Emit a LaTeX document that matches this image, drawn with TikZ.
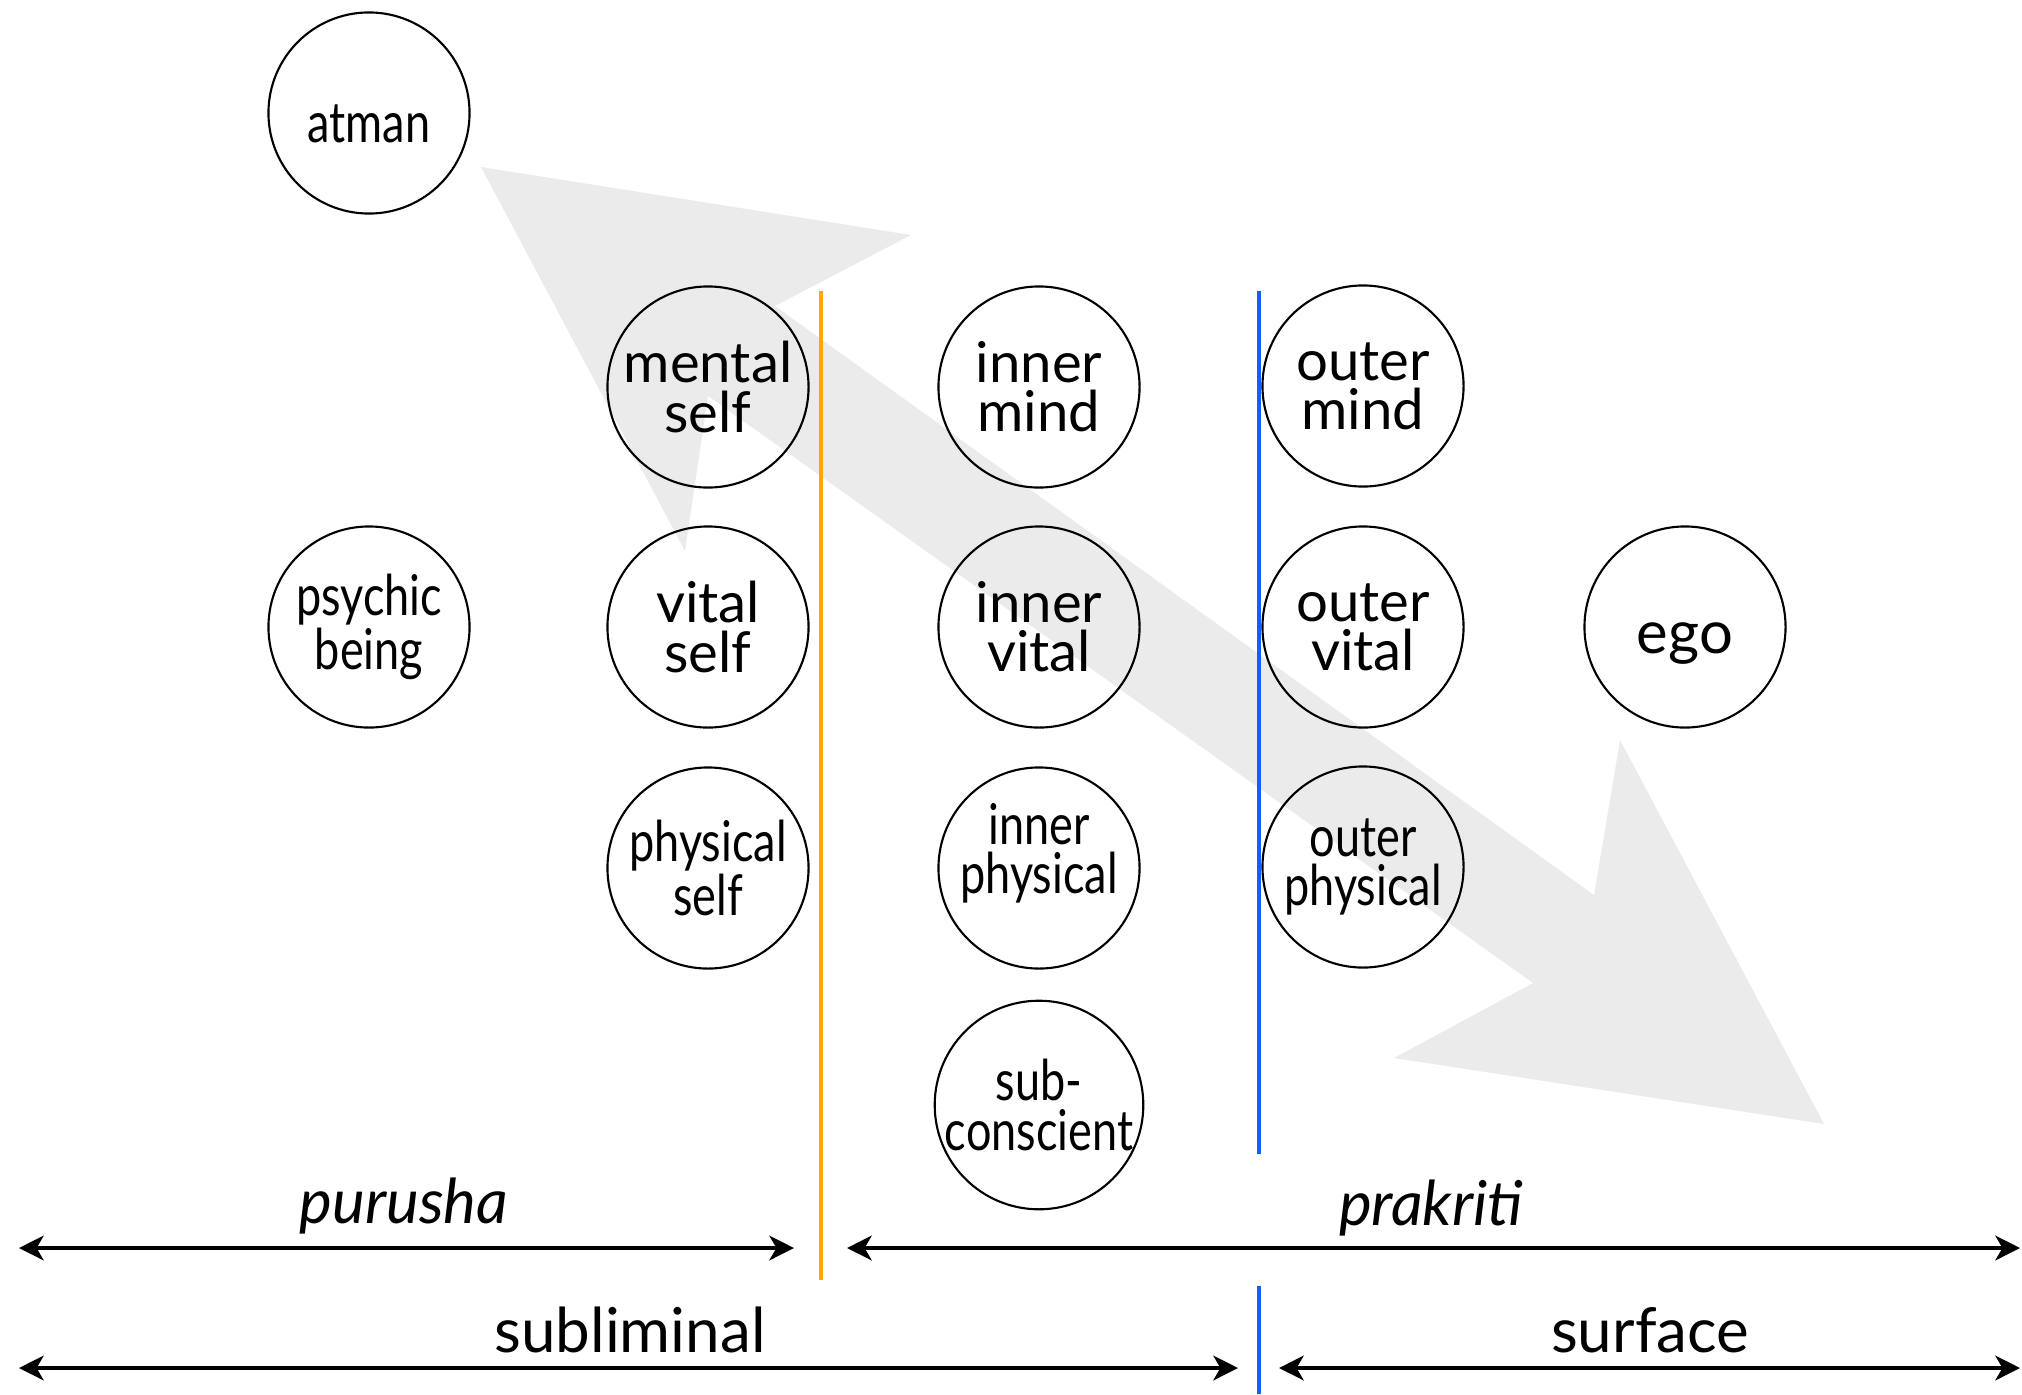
\documentclass[tikz,border=0pt]{standalone}
\usepackage{fontspec}
\setmainfont{Lato}
\newfontfamily\condfont[FakeStretch=0.8]{Lato}
\usetikzlibrary{arrows.meta}
\definecolor{arrowgray}{HTML}{EBEBEB}
\definecolor{lineorange}{HTML}{FFA800}
\definecolor{lineblue}{HTML}{1060FF}
\newcommand{\shiftdown}[2]{\raisebox{-#1}[\height][\depth]{#2}}
\begin{document}
\begin{tikzpicture}[x=0.01cm,y=-0.01cm,
  blob/.style={circle,draw,line width=0.6pt,minimum size=2.01cm,inner sep=0pt,align=center,font=\fontsize{16}{14}\selectfont},
  condblob/.style={blob,font=\condfont\fontsize{16}{14}\selectfont},
  condtext/.style={align=center,inner sep=0pt,font=\condfont\fontsize{16}{14}\selectfont},
  span/.style={line width=1.15pt,{Stealth[length=7pt,width=7pt,inset=2pt]}-{Stealth[length=7pt,width=7pt,inset=2pt]}},
  divider/.style={line width=1.2pt},
  lbl/.style={anchor=base,font=\fontsize{17.6}{20}\selectfont}]
\useasboundingbox (0,0) rectangle (2022,1394);
% big grey double arrow
\fill[arrowgray] (481,167) -- (911,235) -- (775,306) -- (1594,895) -- (1620,740) -- (1824,1124) -- (1394,1058) -- (1533,983) -- (708,396) -- (685,551) -- cycle;
% circles
\node[condblob] (atman) at (369,113) {\shiftdown{0.11cm}{atman}};
\node[blob] (mself) at (708,387) {mental\\self};
\node[blob] (vself) at (708,627) {vital\\self};
\node[condblob] (pself) at (708,868) {physical\\self};
\node[condblob] (psychic) at (369,627) {psychic\\being};
\node[blob] (imind) at (1039,387) {inner\\mind};
\node[blob] (ivital) at (1039,627) {inner\\vital};
\node[blob,label={[condtext,yshift=0.15cm]center:inner\\physical}] (iphys) at (1039,868) {};
\node[condblob] (subc) at (1039,1105) {sub-\\conscient};
\node[blob] (omind) at (1363,386) {outer\\mind};
\node[blob] (ovital) at (1363,627) {outer\\vital};
\node[condblob] (ophys) at (1363,867) {outer\\physical};
\node[blob,font=\fontsize{17}{14}\selectfont] (ego) at (1685,627) {\shiftdown{0.17cm}{ego}};
% divider lines
\coordinate (ot) at (821,291); \coordinate (ob) at (821,1280);
\coordinate (bt) at (1259,291); \coordinate (bb) at (1259,1154);
\coordinate (bt2) at (1259,1286); \coordinate (bb2) at (1259,1394);
\draw[divider,lineorange] (ot) -- (ob);
\draw[divider,lineblue] (bt) -- (bb);
\draw[divider,lineblue] (bt2) -- (bb2);
% spans
\coordinate (pu1) at (19,1248); \coordinate (pu2) at (794,1248);
\coordinate (pr1) at (847,1248); \coordinate (pr2) at (2020,1248);
\coordinate (su1) at (19,1368); \coordinate (su2) at (1238,1368);
\coordinate (sf1) at (1279,1368); \coordinate (sf2) at (2020,1368);
\draw[span] (pu1) -- (pu2);
\draw[span] (pr1) -- (pr2);
\draw[span] (su1) -- (su2);
\draw[span] (sf1) -- (sf2);
% labels
\node[lbl] (lpurusha) at (404,1223) {\itshape purusha};
\node[lbl] (lprakriti) at (1431,1225) {\itshape prakriti};
\node[lbl] (lsubl) at (630,1352) {subliminal};
\node[lbl] (lsurf) at (1650,1352) {surface};
\end{tikzpicture}
\end{document}
